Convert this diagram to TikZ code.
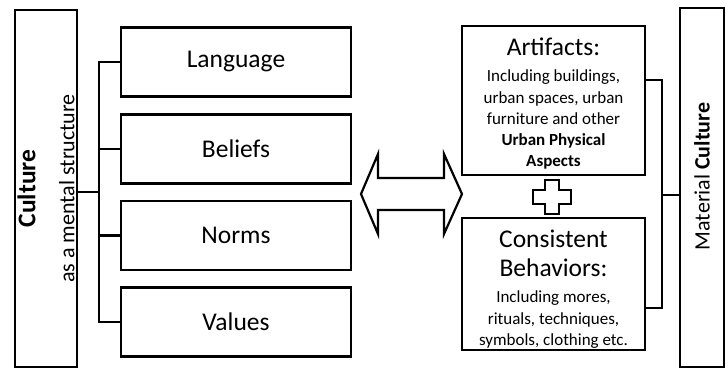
\documentclass[tikz,border=0pt]{standalone}
\usepackage{fontspec}
\setmainfont{Carlito}
\tikzset{
  box/.style={draw, line width=2.4pt, rectangle, inner sep=0pt, align=center},
  big/.style={font=\fontsize{25.5}{30}\selectfont},
  small/.style={font=\fontsize{17}{21.3}\selectfont},
  conn/.style={line width=2.4pt},
  outline/.style={draw, line width=2.2pt, line join=miter, fill=white}
}
\begin{document}
\begin{tikzpicture}[x=1pt,y=-1pt]
\useasboundingbox (0,0) rectangle (726,377);
% left box
\node[box, minimum width=62pt, minimum height=357pt] (culture) at (46,188.5)
  {\rotatebox{90}{\parbox{330pt}{\centering\fontsize{22}{39}\selectfont{\fontsize{25.5}{39}\selectfont\bfseries Culture}\\as a mental structure}}};
% components
\node[box, big, minimum width=230pt, minimum height=69pt] (language) at (236,62) {Language};
\node[box, big, minimum width=230pt, minimum height=69pt] (beliefs) at (236,149) {Beliefs};
\node[box, big, minimum width=230pt, minimum height=69pt] (norms) at (236,235.5) {Norms};
\node[box, big, minimum width=230pt, minimum height=69pt] (values) at (236,322) {Values};
% bracket left
\coordinate (lb) at (99,192);
\draw[conn] (language.west) -| (lb) |- (values.west);
\draw[conn] (beliefs.west) -- (beliefs.west -| lb);
\draw[conn] (norms.west) -- (norms.west -| lb);
\draw[conn] (culture.east |- lb) -- (lb);
% double arrow
\draw[outline] (361,194) -- (378,154) -- (378,178) -- (444,178) -- (444,154) -- (462,194)
  -- (444,234) -- (444,210) -- (378,210) -- (378,234) -- cycle;
% right boxes
\node[box, small, minimum width=183pt, minimum height=149pt] (artifacts) at (553.5,100.5)
  {\rule{0pt}{24pt}{\fontsize{25.5}{21}\selectfont Artifacts:}\\[5pt]Including buildings,\\urban spaces, urban\\furniture and other\\\textbf{Urban Physical}\\\textbf{Aspects}};
\node[box, small, minimum width=183pt, minimum height=132pt] (consistent) at (553.5,284)
  {\rule{0pt}{28pt}{\fontsize{25.5}{21}\selectfont Consistent}\\[8pt]{\fontsize{25.5}{21}\selectfont Behaviors:}\\[4.5pt]Including mores,\\rituals, techniques,\\symbols, clothing etc.};
% plus
\draw[outline, line width=2pt] (545,180) -- (559,180) -- (559,190) -- (571,190) -- (571,204) -- (559,204)
  -- (559,214) -- (545,214) -- (545,204) -- (533,204) -- (533,190) -- (545,190) -- cycle;
% material culture box
\node[box, minimum width=44pt, minimum height=359pt] (material) at (702,187.5)
  {\rotatebox{90}{\makebox[330pt][c]{\hspace*{22pt}\fontsize{22}{26}\selectfont Material \textbf{Culture}}}};
% bracket right
\coordinate (rtop) at (662,80);
\coordinate (rbot) at (662,308);
\coordinate (rmid) at (662,195);
\draw[conn] (artifacts.east |- rtop) -- (rtop) -- (rbot) -- (consistent.east |- rbot);
\draw[conn] (rmid) -- (material.west |- rmid);
\end{tikzpicture}
\end{document}
